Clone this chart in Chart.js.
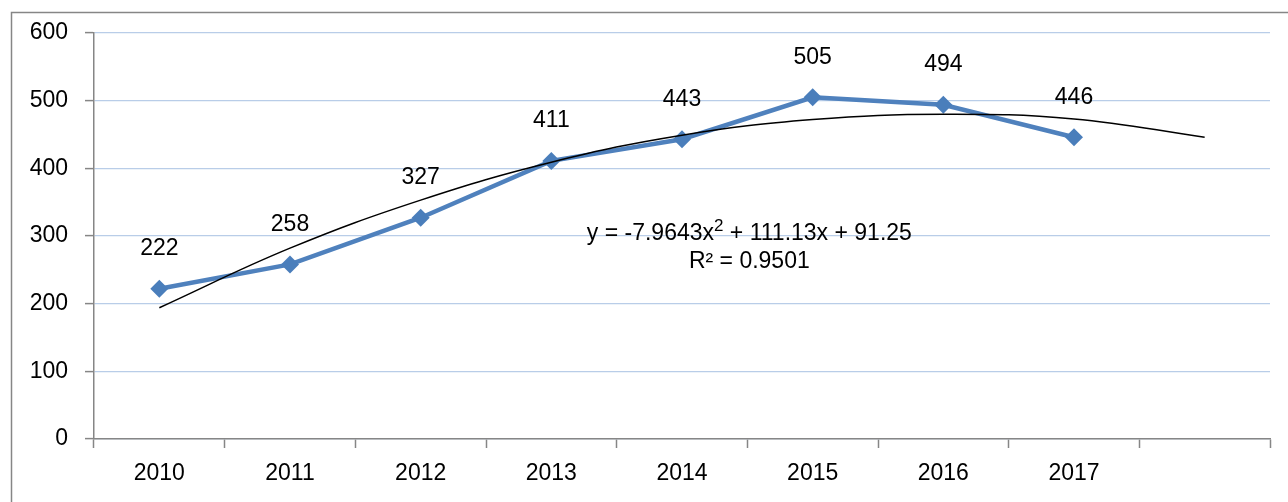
<!DOCTYPE html>
<html>
<head>
<meta charset="utf-8">
<script src="https://cdn.jsdelivr.net/npm/chart.js@4.4.1/dist/chart.umd.min.js"></script>
<style>
  html, body { margin: 0; padding: 0; background: #ffffff; overflow: hidden; }
  canvas { display: block; }
</style>
</head>
<body>
<canvas id="c" width="1288" height="502"></canvas>
<script>
// ---- data ----
const categories = ['2010', '2011', '2012', '2013', '2014', '2015', '2016', '2017', ''];
const values = [222, 258, 327, 411, 443, 505, 494, 446, null];
// polynomial trendline (extends one period forward)
const trendValues = [194, 282, 353, 409, 449, 472, 480, 473, 446];
const yTickMin = 0;
const yTickMax = 600;
const yTickStep = 100;
const equationText = ['y = -7.9643x', '2', ' + 111.13x + 91.25'];
const r2Text = 'R² = 0.9501';

const FONT = '"Liberation Sans", Arial, sans-serif';
const FS = 23;
const GRAY = '#868686';

const framePlugin = {
  id: 'frame',
  beforeDraw(chart) {
    const ctx = chart.ctx;
    ctx.save();
    ctx.fillStyle = '#ffffff';
    ctx.fillRect(0, 0, chart.width, chart.height);
    ctx.strokeStyle = GRAY;
    ctx.lineWidth = 1.5;
    ctx.strokeRect(11.5, 12.5, 1400, 700);
    ctx.restore();
  }
};

const labelPlugin = {
  id: 'labels',
  afterDatasetsDraw(chart) {
    const ctx = chart.ctx;
    ctx.save();
    ctx.fillStyle = '#000000';
    ctx.font = FS + 'px ' + FONT;
    ctx.textAlign = 'center';
    ctx.textBaseline = 'middle';
    const meta = chart.getDatasetMeta(1);
    meta.data.forEach((pt, i) => {
      if (values[i] == null) return;
      ctx.fillText(String(values[i]), pt.x, pt.y - 40);
    });
    // trendline equation
    const xs = chart.scales.x, ys = chart.scales.y;
    const cx = (xs.getPixelForValue(4) + xs.getPixelForValue(5)) / 2 + 2;
    const y1 = ys.getPixelForValue(304);
    const y2 = ys.getPixelForValue(262);
    ctx.font = FS + 'px ' + FONT;
    const w0 = ctx.measureText(equationText[0]).width;
    const w2 = ctx.measureText(equationText[2]).width;
    ctx.font = '17px ' + FONT;
    const w1 = ctx.measureText(equationText[1]).width;
    const total = w0 + w1 + w2;
    let x = cx - total / 2;
    ctx.textAlign = 'left';
    ctx.font = FS + 'px ' + FONT;
    ctx.fillText(equationText[0], x, y1);
    x += w0;
    ctx.font = '17px ' + FONT;
    ctx.fillText(equationText[1], x, y1 - 7);
    x += w1;
    ctx.font = FS + 'px ' + FONT;
    ctx.fillText(equationText[2], x, y1);
    ctx.textAlign = 'center';
    ctx.fillText(r2Text, cx, y2);
    ctx.restore();
  }
};

new Chart(document.getElementById('c'), {
  type: 'line',
  data: {
    labels: categories,
    datasets: [
      {
        label: 'Trend',
        data: trendValues,
        borderColor: '#000000',
        borderWidth: 1.5,
        pointRadius: 0,
        fill: false,
        tension: 0.4,
        order: 0
      },
      {
        label: 'Values',
        data: values,
        borderColor: '#4F81BD',
        backgroundColor: '#4F81BD',
        borderWidth: 4.5,
        pointStyle: 'rectRot',
        pointRadius: 9,
        pointBorderWidth: 0,
        pointBackgroundColor: '#4A7EBB',
        fill: false,
        tension: 0,
        order: 1
      }
    ]
  },
  options: {
    responsive: false,
    animation: false,
    devicePixelRatio: 1,
    layout: { padding: { left: 0, top: 33, right: 18, bottom: 0 } },
    plugins: {
      legend: { display: false },
      tooltip: { enabled: false }
    },
    scales: {
      x: {
        type: 'category',
        offset: true,
        grid: {
          display: true,
          drawOnChartArea: false,
          drawTicks: true,
          tickLength: 9,
          tickColor: GRAY,
          tickWidth: 1.5,
          offset: true
        },
        border: { display: true, color: GRAY, width: 1.5 },
        ticks: {
          color: '#000000',
          font: { family: FONT, size: FS },
          padding: 12,
          maxRotation: 0,
          autoSkip: false
        },
        afterFit(scale) { scale.height = 63; }
      },
      y: {
        min: yTickMin,
        max: yTickMax,
        ticks: {
          stepSize: yTickStep,
          color: '#000000',
          font: { family: FONT, size: FS },
          padding: 17
        },
        grid: {
          color: '#B9CDE8',
          lineWidth: 1.2,
          drawTicks: true,
          tickLength: 9,
          tickColor: GRAY,
          tickWidth: 1.5
        },
        border: { display: true, color: GRAY, width: 1.5 },
        afterFit(scale) { scale.width = 94; }
      }
    }
  },
  plugins: [framePlugin, labelPlugin]
});
</script>
</body>
</html>
